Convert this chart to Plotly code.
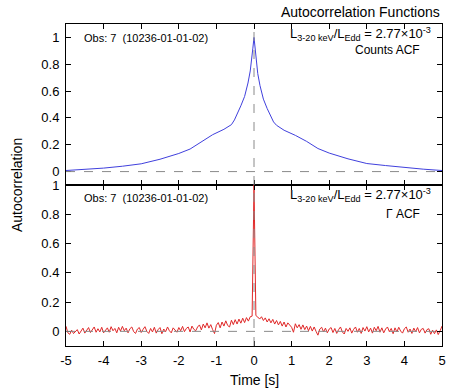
import plotly.graph_objects as go
from plotly.subplots import make_subplots


COLORS = {
    "counts": "#4040dd",
    "gamma": "#e02828",
    "ref": "#8a8a8a",
    "frame": "#000000",
}
FONT = "Liberation Sans, Arial, sans-serif"

# Counts ACF (top panel) at irregular lags [s]
counts_lag = [-5, -4.5, -4, -3.5, -3, -2.5, -2, -1.7, -1.4, -1.1, -0.8, -0.7, -0.6,
              -0.52, -0.45, -0.35, -0.25, -0.16, -0.1, -0.06, -0.03, 0,
              0.03, 0.06, 0.1, 0.16, 0.25, 0.35, 0.45, 0.52, 0.6, 0.7, 0.8, 1.1, 1.4,
              1.7, 2, 2.5, 3, 3.5, 4, 4.5, 5]
counts_acf = [0.008, 0.016, 0.026, 0.040, 0.058, 0.092, 0.135, 0.168, 0.222, 0.275, 0.315, 0.330, 0.350,
              0.385, 0.425, 0.490, 0.560, 0.660, 0.750, 0.830, 0.920, 1.000,
              0.910, 0.820, 0.730, 0.640, 0.540, 0.470, 0.405, 0.370, 0.345, 0.325, 0.308, 0.270, 0.225,
              0.172, 0.138, 0.095, 0.060, 0.045, 0.030, 0.018, 0.008]

# Gamma ACF (bottom panel), lags -5 .. 5 s in 0.05 s steps
gamma_acf = [
    0.035, -0.010, -0.020, 0.008, -0.015, -0.002, 0.012, -0.018, 0.006, 0.022,
    -0.012, 0.010, 0.026, -0.008, 0.014, 0.030, -0.006, 0.018, -0.004, 0.028,
    -0.010, 0.012, 0.024, -0.006, 0.032, 0.004, 0.020, -0.010, 0.028, 0.002,
    0.034, 0.004, 0.022, -0.010, 0.018, 0.030, -0.002, -0.014, 0.016, 0.026,
    -0.008, 0.014, 0.032, 0.000, -0.014, 0.020, -0.004, 0.028, -0.012, 0.012,
    0.026, -0.016, 0.016, -0.002, 0.030, 0.004, -0.010, 0.024, 0.010, -0.006,
    0.026, 0.004, 0.034, -0.002, 0.020, 0.030, -0.004, 0.036, 0.014, 0.004,
    0.030, 0.044, 0.010, 0.050, 0.024, 0.058, 0.022, 0.046, 0.012, -0.015,
    0.042, 0.060, 0.024, 0.064, 0.036, 0.072, 0.040, 0.030, 0.076, 0.046,
    0.080, 0.050, 0.084, 0.056, 0.090, 0.060, 0.094, 0.070, 0.100, 0.104,
    1.000,
    0.108, 0.098, 0.084, 0.100, 0.074, 0.092, 0.064, 0.086, 0.058, 0.082,
    0.050, 0.074, 0.044, 0.068, 0.036, 0.064, 0.030, 0.058, 0.046, 0.028,
    -0.006, 0.052, 0.024, 0.046, 0.014, 0.044, 0.012, 0.036, 0.004, 0.034,
    0.002, 0.030, 0.000, -0.026, 0.016, 0.028, -0.004, 0.022, -0.010, 0.016,
    0.026, -0.008, 0.020, -0.014, 0.012, 0.030, -0.004, -0.018, 0.020, 0.000,
    0.024, -0.012, 0.014, 0.030, -0.006, 0.020, -0.014, 0.026, 0.002, 0.032,
    -0.004, 0.022, -0.012, 0.028, 0.004, 0.034, -0.006, 0.024, -0.010, 0.016,
    0.030, -0.002, 0.020, -0.016, 0.024, -0.004, 0.028, 0.002, -0.012, 0.018,
    0.030, -0.006, 0.016, -0.014, 0.022, -0.002, 0.026, -0.010, 0.014, 0.020,
    -0.012, 0.012, 0.018, -0.020, 0.008, -0.016, 0.010, -0.022, 0.004, 0.036,
]
gamma_lag = [round(-5 + 0.05 * i, 2) for i in range(len(gamma_acf))]

x_tick_vals = [-5, -4, -3, -2, -1, 0, 1, 2, 3, 4, 5]
x_tick_text = ["-5", "-4", "-3", "-2", "-1", "0", "1", "2", "3", "4", "5"]
y_tick_vals = [0, 0.2, 0.4, 0.6, 0.8, 1]
y_tick_text = ["0", "0.2", "0.4", "0.6", "0.8", "1"]

obs_label = "Obs: 7  (10236-01-01-02)"
lum_label = "L<sub>3-20 keV</sub>/L<sub>Edd</sub> = 2.77×10<sup>-3</sup>"

fig = make_subplots(rows=2, cols=1, shared_xaxes=True, vertical_spacing=0)

fig.add_trace(go.Scatter(
    x=counts_lag, y=counts_acf, mode="lines",
    line=dict(color=COLORS["counts"], width=1), name="Counts ACF",
), row=1, col=1)
fig.add_trace(go.Scatter(
    x=gamma_lag, y=gamma_acf, mode="lines",
    line=dict(color=COLORS["gamma"], width=1), name="Γ ACF",
), row=2, col=1)

# reference lines
for r in (1, 2):
    fig.add_hline(y=0, line=dict(color=COLORS["ref"], width=1, dash="dash"), row=r, col=1)
    fig.add_vline(x=0, line=dict(color=COLORS["ref"], width=1, dash="dash"), row=r, col=1)

axis_common = dict(
    showgrid=False, zeroline=False, showline=True, linecolor=COLORS["frame"], linewidth=1,
    mirror="ticks", ticks="inside", ticklen=5, tickcolor=COLORS["frame"],
    tickfont=dict(family=FONT, size=13, color="#000"),
)
fig.update_xaxes(range=[-5, 5], tickvals=x_tick_vals, ticktext=x_tick_text,
                 ticklabelstandoff=2, **axis_common)
fig.update_xaxes(showticklabels=False, row=1, col=1)
fig.update_yaxes(tickvals=y_tick_vals, ticktext=y_tick_text, ticklabelstandoff=3, **axis_common)
fig.update_yaxes(range=[-0.1, 1.1], row=1, col=1)
fig.update_yaxes(range=[-0.1, 1.0], row=2, col=1)

# panel texts
for yref, xr, sub, ys in [("y domain", "x domain", "Counts ACF", (0.91, 0.935, 0.84)),
                          ("y2 domain", "x2 domain", "Γ ACF", (0.92, 0.935, 0.82))]:
    fig.add_annotation(text=obs_label, xref=xr, yref=yref, x=0.042, y=ys[0],
                       xanchor="left", yanchor="middle", showarrow=False,
                       font=dict(family=FONT, size=11, color="#000"))
    fig.add_annotation(text=lum_label, xref=xr, yref=yref, x=0.976, y=ys[1],
                       xanchor="right", yanchor="middle", showarrow=False,
                       font=dict(family=FONT, size=13, color="#000"))
    fig.add_annotation(text=sub, xref=xr, yref=yref, x=0.947, y=ys[2],
                       xanchor="right", yanchor="middle", showarrow=False,
                       font=dict(family=FONT, size=12, color="#000"))

fig.add_annotation(text="Autocorrelation Functions", xref="paper", yref="paper",
                   x=1, y=1, yshift=12, xanchor="right", yanchor="middle", showarrow=False,
                   font=dict(family=FONT, size=14, color="#000"))
fig.add_annotation(text="Autocorrelation", xref="paper", yref="paper",
                   x=0, y=0.5, xshift=-49, textangle=-90, xanchor="center", yanchor="middle",
                   showarrow=False, font=dict(family=FONT, size=14, color="#000"))
fig.add_annotation(text="Time [s]", xref="paper", yref="paper",
                   x=0.5, y=0, yshift=-34, xanchor="center", yanchor="middle",
                   showarrow=False, font=dict(family=FONT, size=14, color="#000"))

fig.update_layout(
    width=458, height=390,
    margin=dict(l=66, r=12, t=24, b=44),
    paper_bgcolor="white", plot_bgcolor="white",
    showlegend=False,
    font=dict(family=FONT, color="#000"),
)

# drop the default 8 px page margin so the figure fills the window
fig.write_html("out.html", config={"displayModeBar": False},
               post_script="document.body.style.margin = '0';")
